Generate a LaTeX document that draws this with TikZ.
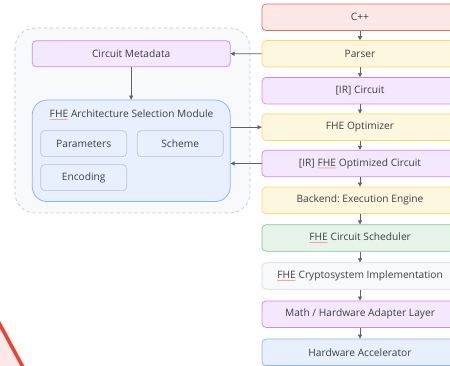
\documentclass[tikz,border=0pt]{standalone}
\usepackage{fontspec}
\setmainfont{Open Sans}
\frenchspacing
\usetikzlibrary{arrows.meta,decorations.pathmorphing}

\definecolor{txt}{HTML}{3C4043}
\definecolor{arrowgrey}{HTML}{5F6368}
\definecolor{redfill}{HTML}{FCE8E6}\definecolor{redline}{HTML}{EE675C}
\definecolor{yelfill}{HTML}{FEF7E0}\definecolor{yelline}{HTML}{FDD663}
\definecolor{purfill}{HTML}{F3E8FD}\definecolor{purline}{HTML}{C58AF9}
\definecolor{grnfill}{HTML}{E6F4EA}\definecolor{grnline}{HTML}{81C995}
\definecolor{gryfill}{HTML}{F8F9FA}\definecolor{gryline}{HTML}{DADCE0}
\definecolor{blufill}{HTML}{E8F0FE}\definecolor{bluline}{HTML}{8AB4F8}
\definecolor{boxline}{HTML}{BDC1C6}
\definecolor{warnred}{HTML}{EA4335}

% word with a wavy red underline
\newcommand\wavy[1]{\tikz[baseline=(w.base),x=1pt,y=1pt]{%
  \node[inner sep=0pt,outer sep=0pt,minimum width=0pt,minimum height=0pt,
        draw=none,fill=none,rounded corners=0pt](w){#1};
  \draw[warnred!60,line width=0.35pt,rounded corners=0pt,decorate,
        decoration={snake,amplitude=0.4pt,segment length=1.6pt}]
  ([yshift=-1.8pt]w.base west) -- ([yshift=-1.8pt]w.base east);}}

\tikzset{
  every node/.style={text=txt,font=\fontsize{10.2}{12}\selectfont},
  stage/.style={draw,rounded corners=4pt,line width=0.7pt,minimum width=196pt,minimum height=26.5pt,inner sep=0pt},
  red stage/.style={stage,fill=redfill,draw=redline},
  yel stage/.style={stage,fill=yelfill,draw=yelline},
  pur stage/.style={stage,fill=purfill,draw=purline},
  grn stage/.style={stage,fill=grnfill,draw=grnline},
  gry stage/.style={stage,fill=gryfill,draw=gryline},
  blu stage/.style={stage,fill=blufill,draw=bluline},
  option/.style={draw=boxline,fill=blufill,rounded corners=4pt,line width=0.6pt,minimum width=86pt,minimum height=26pt,inner sep=0pt},
  flow/.style={draw=arrowgrey,line width=0.6pt,-{Triangle[length=4pt,width=4pt]}},
}

\begin{document}
\begin{tikzpicture}[x=1pt,y=-1pt]
\useasboundingbox (0,0) rectangle (450,366);
\begin{scope}
\clip (0,0) rectangle (450,366);

% corner of a red shape at the lower left
\fill[redfill] (0,325) -- (23,368) -- (0,368) -- cycle;
\draw[warnred,line width=3.5pt] (-2,321) -- (24,369);

% dashed frame around the selection part
\draw[boxline,dashed,fill=gryfill,line width=0.6pt,rounded corners=20pt] (15,28) rectangle (250,213);

% pipeline stages
\node[red stage] (cpp)  at (360,17.3)  {C++};
\node[yel stage] (pars) at (360,53.8)  {Parser};
\node[pur stage] (irc)  at (360,90.7)  {[IR] Circuit};
\node[yel stage] (opt)  at (360,127.2) {FHE Optimizer};
\node[pur stage] (iro)  at (360,163.5) {[IR] \wavy{FHE} Optimized Circuit};
\node[yel stage] (back) at (360,200.3) {Backend: Execution Engine};
\node[grn stage] (sch)  at (360,238)   {\wavy{FHE} Circuit Scheduler};
\node[gry stage] (cry)  at (360,276)   {\wavy{FHE} Cryptosystem Implementation};
\node[pur stage] (math) at (360,314.2) {Math / Hardware Adapter Layer};
\node[blu stage] (hw)   at (360,352.3) {Hardware Accelerator};

% selection part
\node[pur stage,minimum width=198pt,minimum height=26pt] (meta) at (131.2,53.7) {Circuit Metadata};
\node[draw=bluline,fill=blufill,rounded corners=15pt,line width=0.8pt,minimum width=198pt,minimum height=101.5pt,inner sep=0pt] (fasm) at (131.2,150.8) {};
\node (title) at (131.5,115) {\wavy{FHE} Architecture Selection Module};
\node[option] (par) at (83.7,143.7) {Parameters};
\node[option] (sche) at (180.2,143.7) {Scheme};
\node[option] (enc) at (83.7,177.7) {Encoding};

% connectors
\foreach \a/\b in {cpp/pars,pars/irc,irc/opt,opt/iro,iro/back,back/sch,sch/cry,cry/math,math/hw}
  \draw[flow] (\a) -- (\b);
\draw[flow] (pars.west) -- (meta.east);
\draw[flow] (meta.south) -- (fasm.north);
\draw[flow] (fasm.east |- opt) -- (opt.west);
\draw[flow] (iro.west) -- (fasm.east |- iro);
\end{scope}
\end{tikzpicture}
\end{document}
